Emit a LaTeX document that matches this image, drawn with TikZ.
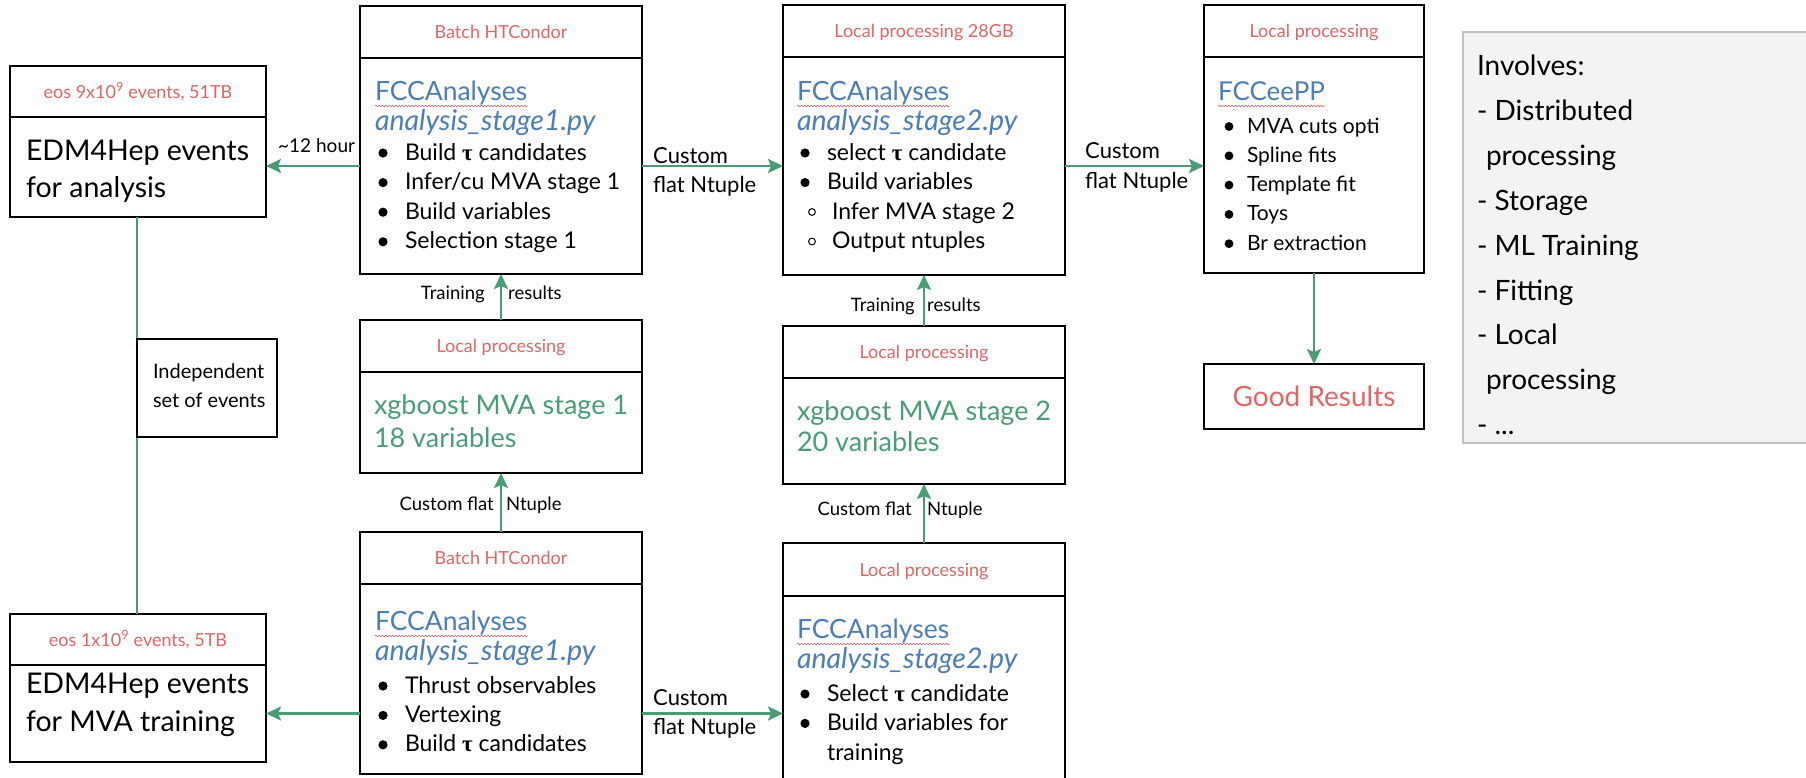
\documentclass[tikz,border=0pt]{standalone}
\usepackage{fontspec}
\setmainfont{Lato}
\newfontfamily\taufont{Liberation Serif}
\usetikzlibrary{arrows.meta,decorations.pathmorphing}

\definecolor{hdrred}{RGB}{224,102,102}
\definecolor{fccblue}{RGB}{74,126,187}
\definecolor{flowgreen}{RGB}{72,158,116}
\definecolor{notefill}{RGB}{243,243,243}
\definecolor{noteedge}{RGB}{192,192,192}

\tikzset{
  hdr/.style={draw=black, line width=1.3pt, fill=white, anchor=north west,
    inner sep=0pt, outer sep=0pt, text=hdrred,
    font=\fontsize{18}{21}\selectfont, text height=13pt, text depth=0pt},
  body/.style={draw=black, line width=2.8pt, fill=white, anchor=north west,
    inner sep=0pt, outer sep=0pt},
  txt/.style={anchor=base west, inner sep=0pt, outer sep=0pt},
  title/.style={txt, text=fccblue, font=\fontsize{26.5}{31}\selectfont},
  script/.style={txt, text=fccblue, font=\fontsize{28.5}{33}\itshape},
  item/.style={txt, font=\fontsize{23}{27}\selectfont},
  big/.style={txt, font=\fontsize{28.5}{33}\selectfont},
  mva/.style={txt, text=flowgreen, font=\fontsize{27}{31}\selectfont},
  notetxt/.style={txt, font=\fontsize{28}{34}\selectfont},
  flow/.style={draw=flowgreen, line width=2.4pt,
    -{Stealth[length=15pt,width=14pt,inset=3pt]}},
  spine/.style={draw=flowgreen, line width=2.4pt},
  lbl/.style={inner sep=0pt, font=\fontsize{22}{26}\selectfont},
  smalllbl/.style={inner sep=0pt, font=\fontsize{18.5}{22}\selectfont},
  squiggle/.style={draw=hdrred, line width=0.6pt, decorate,
    decoration={snake, amplitude=0.8pt, segment length=3.3pt}},
}

% bulleted list: name prefix, text x, first baseline, line step, items
\newcommand\dotlist[5]{%
  \foreach \entry [count=\k] in {#5} {
    \node[item] (#1-\k) at ({#2},{#3+#4*(\k-1)}) {\entry};
    \fill ([xshift=-22pt,yshift=7pt]#1-\k.base west) circle (4.6pt);
  }}
% red spell-check wave under a word
\newcommand\wavy[1]{%
  \draw[squiggle] ([yshift=-6pt]#1.base west) -- ([yshift=-6pt]#1.base east);}
\newcommand\tauB{{\taufont\bfseries τ}}

\begin{document}
\begin{tikzpicture}[x=1pt, y=-1pt]
\useasboundingbox (0,0) rectangle (1806,777);

\coordinate (spinex) at (137,0);

% ---------- event storage (left column) ----------
\node[hdr, minimum width=256pt, minimum height=51pt] (e1h) at (10,66)
  {eos 9x10\textsuperscript{9} events, 51TB};
\node[body, minimum width=256pt, minimum height=100pt] (e1b) at (10,117) {};
\node[big] (e1t1) at (26,160) {EDM4Hep events};
\node[big] (e1t2) at (26,197) {for analysis};

\node[hdr, minimum width=256pt, minimum height=51pt] (e2h) at (10,614)
  {eos 1x10\textsuperscript{9} events, 5TB};
\node[body, minimum width=256pt, minimum height=97pt] (e2b) at (10,665) {};
\node[big] (e2t1) at (26,693) {EDM4Hep events};
\node[big] (e2t2) at (26,731) {for MVA training};

\draw[spine] (e1b.south -| spinex) -- (e2h.north -| spinex);

\node[body, minimum width=140pt, minimum height=98pt] (ind) at (137,339) {};
\node[txt, font=\fontsize{20}{24}\selectfont] (ind1) at (153,378) {Independent};
\node[txt, font=\fontsize{20}{24}\selectfont] (ind2) at (153,407) {set of events};

% ---------- stage 1 (batch) ----------
\node[hdr, minimum width=282pt, minimum height=52pt] (b1h) at (360,6) {Batch HTCondor};
\node[body, minimum width=282pt, minimum height=216pt] (b1b) at (360,58) {};
\node[title] (b1t) at (375,100) {FCCAnalyses};
\wavy{b1t}
\node[script] (b1s) at (375,130) {analysis\_stage1.py};
\dotlist{b1i}{405}{160}{29.6}{Build \tauB{} candidates, Infer/cu MVA stage 1, Build variables, Selection stage 1}

\node[hdr, minimum width=282pt, minimum height=52pt] (b2h) at (360,532) {Batch HTCondor};
\node[body, minimum width=282pt, minimum height=190pt] (b2b) at (360,584) {};
\node[title] (b2t) at (375,630) {FCCAnalyses};
\wavy{b2t}
\node[script] (b2s) at (375,660) {analysis\_stage1.py};
\dotlist{b2i}{405}{693}{29.4}{Thrust observables, Vertexing, Build \tauB{} candidates}

% ---------- MVA training ----------
\node[hdr, minimum width=282pt, minimum height=52pt] (l1h) at (360,320) {Local processing};
\node[body, minimum width=282pt, minimum height=101pt] (l1b) at (360,372) {};
\node[mva] (l1t1) at (374,414) {xgboost MVA stage 1};
\node[mva] (l1t2) at (374,447) {18 variables};

\node[hdr, minimum width=282pt, minimum height=52pt] (l2h) at (783,326) {Local processing};
\node[body, minimum width=282pt, minimum height=106pt] (l2b) at (783,378) {};
\node[mva] (l2t1) at (797,420) {xgboost MVA stage 2};
\node[mva] (l2t2) at (797,451) {20 variables};

% ---------- stage 2 ----------
\node[hdr, minimum width=282pt, minimum height=52pt] (l28h) at (783,5) {Local processing 28GB};
\node[body, minimum width=282pt, minimum height=218pt] (l28b) at (783,57) {};
\node[title] (l28t) at (797,100) {FCCAnalyses};
\wavy{l28t}
\node[script] (l28s) at (797,130) {analysis\_stage2.py};
\dotlist{l28i}{827}{160}{29.6}{select \tauB{} candidate, Build variables}
\node[item] (l28u1) at (832,219) {Infer MVA stage 2};
\node[item] (l28u2) at (832,248.5) {Output ntuples};
\draw[line width=1pt] ([xshift=-20pt,yshift=7pt]l28u1.base west) circle (3.4pt);
\draw[line width=1pt] ([xshift=-20pt,yshift=7pt]l28u2.base west) circle (3.4pt);

\node[hdr, minimum width=282pt, minimum height=53pt] (l3h) at (783,543) {Local processing};
\node[body, minimum width=282pt, minimum height=200pt] (l3b) at (783,596) {};
\node[title] (l3t) at (797,638) {FCCAnalyses};
\wavy{l3t}
\node[script] (l3s) at (797,668) {analysis\_stage2.py};
\dotlist{l3i}{827}{701}{29.4}{Select \tauB{} candidate, Build variables for}
\node[item] (l3c) at (827,760) {training};

% ---------- final fit ----------
\node[hdr, minimum width=220pt, minimum height=52pt] (fph) at (1204,5) {Local processing};
\node[body, minimum width=220pt, minimum height=216pt] (fpb) at (1204,57) {};
\node[title, font=\fontsize{26}{30}\selectfont] (fpt) at (1218,100) {FCCeePP};
\wavy{fpt}
\foreach \entry [count=\k] in {MVA cuts opti, Spline fits, Template fit, Toys, Br extraction} {
  \node[txt, font=\fontsize{21}{25}\selectfont] (fpi-\k) at (1247,{133+29.3*(\k-1)}) {\entry};
  \fill ([xshift=-18pt,yshift=6.5pt]fpi-\k.base west) circle (4.4pt);
}

\node[body, minimum width=220pt, minimum height=65pt, text=hdrred,
  font=\fontsize{28}{32}\selectfont, text height=20pt, text depth=0pt] (gr) at (1204,364) {Good Results};

% ---------- notes ----------
\node[draw=noteedge, fill=notefill, line width=1.5pt, anchor=north west,
  inner sep=0pt, minimum width=360pt, minimum height=411pt] (note) at (1462,31) {};
\node[notetxt] (n1) at (1477,75) {Involves:};
\node[notetxt] (n2) at (1477,120) {- Distributed};
\node[notetxt] (n3) at (1486,165) {processing};
\node[notetxt] (n4) at (1477,210) {- Storage};
\node[notetxt] (n5) at (1477,255) {- ML Training};
\node[notetxt] (n6) at (1477,300) {- Fitting};
\node[notetxt] (n7) at (1477,344) {- Local};
\node[notetxt] (n8) at (1486,389) {processing};
\node[notetxt] (n9) at (1477,434) {- ...};

% ---------- connectors ----------
\draw[flow] (b1b.west) -- (b1b.west -| e1b.east);
\node[anchor=base west, inner sep=0pt, font=\fontsize{19}{23}\selectfont] (hrs) at (278,152) {\textasciitilde12 hour};

\draw[flow] (b1b.east) -- (b1b.east -| l28b.west);
\node[lbl, anchor=base west] (c1a) at (653,163) {Custom};
\node[lbl, anchor=base west] (c1b) at (653,192) {flat Ntuple};

\draw[flow] (l28b.east) -- (l28b.east -| fpb.west);
\node[lbl, anchor=base west] (c2a) at (1085,158) {Custom};
\node[lbl, anchor=base west] (c2b) at (1085,188) {flat Ntuple};

\draw[flow] (fpb.south) -- (gr.north);

\draw[flow] (l1h.north) -- (b1b.south);
\node[smalllbl, anchor=base east] (tr1a) at (485,299) {Training};
\node[smalllbl, anchor=base west] (tr1b) at (508,299) {results};

\draw[flow] (b2h.north) -- (l1b.south);
\node[smalllbl, anchor=base east] (cf1a) at (494,510) {Custom flat};
\node[smalllbl, anchor=base west] (cf1b) at (506,510) {Ntuple};

\draw[flow] (l2h.north) -- (l28b.south);
\node[smalllbl, anchor=base east] (tr2a) at (915,311) {Training};
\node[smalllbl, anchor=base west] (tr2b) at (927,311) {results};

\draw[flow] (l3h.north) -- (l2b.south);
\node[smalllbl, anchor=base east] (cf2a) at (912,515) {Custom flat};
\node[smalllbl, anchor=base west] (cf2b) at (927,515) {Ntuple};

\draw[flow] (b2b.west |- e2b.east) -- (e2b.east);
\draw[flow] (b2b.east |- e2b.east) -- (l3b.west |- e2b.east);
\node[lbl, anchor=base west] (c3a) at (653,705) {Custom};
\node[lbl, anchor=base west] (c3b) at (653,734) {flat Ntuple};

\end{tikzpicture}
\end{document}
